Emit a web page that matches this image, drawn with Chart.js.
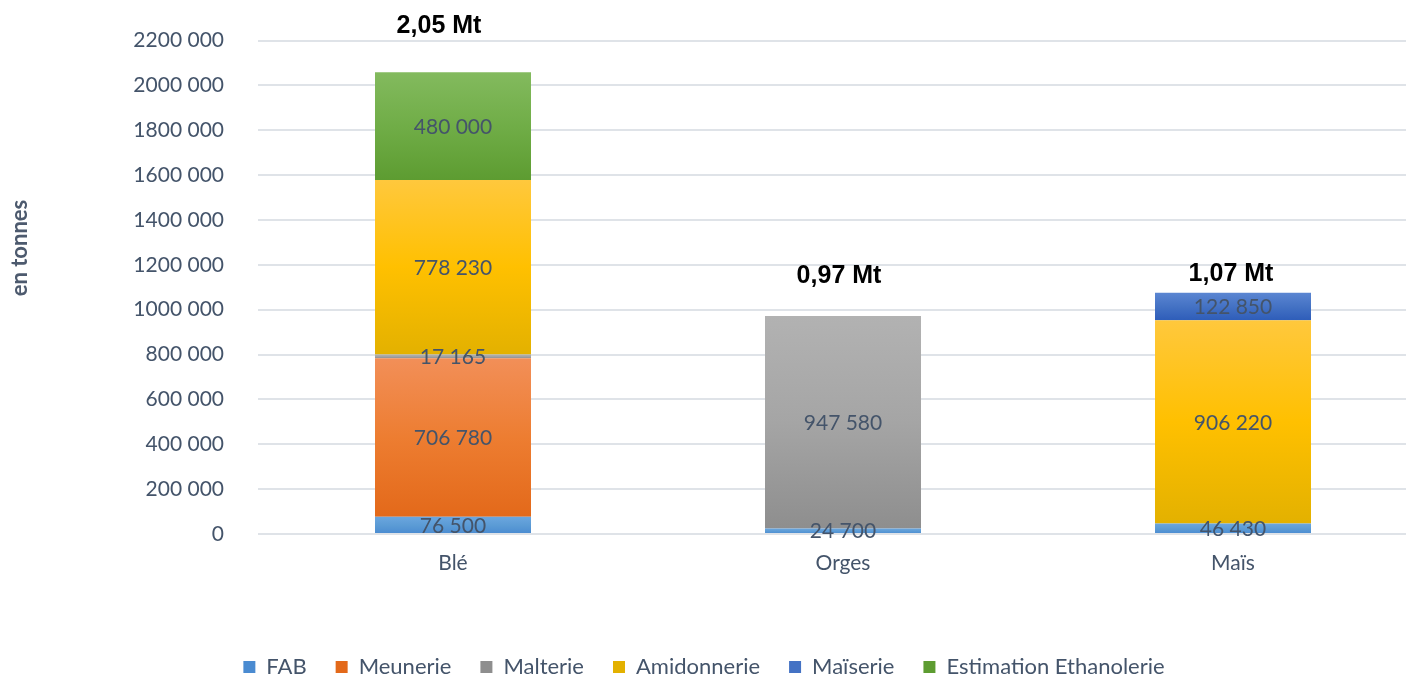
<!DOCTYPE html>
<html>
<head>
<meta charset="utf-8">
<script src="https://cdn.jsdelivr.net/npm/chart.js@4.4.0/dist/chart.umd.min.js"></script>
<style>
  html, body { margin: 0; padding: 0; background: #fff; overflow: hidden; }
  #wrap { position: relative; width: 1406px; height: 678px; overflow: hidden; }
  #chart { position: absolute; left: -20px; top: -6px; }
</style>
</head>
<body>
<div id="wrap"><canvas id="chart" width="1460" height="694"></canvas></div>
<script>
// data
const categories  = ['Blé', 'Orges', 'Maïs'];
const seriesNames = ['FAB', 'Meunerie', 'Malterie', 'Amidonnerie', 'Maïserie', 'Estimation Ethanolerie'];
const fab         = [76500, 24700, 46430];
const meunerie    = [706780, null, null];
const malterie    = [17165, 947580, null];
const amidonnerie = [778230, null, 906220];
const maiserie    = [null, null, 122850];
const ethanolerie = [480000, null, null];
const totalLabels = ['2,05 Mt', '0,97 Mt', '1,07 Mt'];
const yMax  = 2200000;
const yStep = 200000;

// styles
const TEXT = '#44546a';
const palette = [
    { top: '#6ba6df', mid: '#5b9bd5', bottom: '#4a8bd1' },
    { top: '#f28f58', mid: '#ed7d31', bottom: '#e3691a' },
    { top: '#b2b2b2', mid: '#a5a5a5', bottom: '#8e8e8e' },
    { top: '#ffc83d', mid: '#ffc000', bottom: '#e3b100' },
    { top: '#5b86d2', mid: '#4472c4', bottom: '#2e5db9' },
    { top: '#83ba5e', mid: '#70ad47', bottom: '#5d9c31' }
];
// where the bold totals sit relative to the top of each stack (px)
const totalOffsets = [{ dx: -14, dy: -46 }, { dx: -4, dy: -40 }, { dx: -2, dy: -19 }];

function fmt(v) {
    if (v < 1000) return String(v);
    return Math.floor(v / 1000) + ' ' + String(v % 1000).padStart(3, '0');
}

function segGradient(ctx) {
    const c = palette[ctx.datasetIndex];
    if (ctx.type !== 'data') return c.mid;
    const chart = ctx.chart;
    const y = chart.scales.y;
    if (!y || !chart.chartArea) return c.mid;
    let base = 0;
    for (let d = 0; d < ctx.datasetIndex; d++) base += chart.data.datasets[d].data[ctx.dataIndex] || 0;
    const v = ctx.raw || 0;
    const top = y.getPixelForValue(base + v);
    const bottom = y.getPixelForValue(base);
    if (!(bottom > top)) return c.mid;
    const g = chart.ctx.createLinearGradient(0, top, 0, bottom);
    g.addColorStop(0, c.top);
    g.addColorStop(0.5, c.mid);
    g.addColorStop(1, c.bottom);
    return g;
}

const labelsPlugin = {
    id: 'segLabels',
    afterDatasetsDraw(chart) {
        const ctx = chart.ctx;
        ctx.save();
        ctx.textAlign = 'center';
        ctx.textBaseline = 'middle';
        ctx.font = '21px Lato';
        ctx.fillStyle = TEXT;
        chart.data.datasets.forEach((ds, di) => {
            const meta = chart.getDatasetMeta(di);
            meta.data.forEach((bar, i) => {
                const v = ds.data[i];
                if (!v) return;
                const p = bar.getProps(['x', 'y', 'base'], true);
                ctx.fillText(fmt(v), p.x, (p.y + p.base) / 2 + 1);
            });
        });

        ctx.font = 'bold 25px "Liberation Sans"';
        ctx.fillStyle = '#000';
        categories.forEach((c, i) => {
            let total = 0;
            chart.data.datasets.forEach(ds => { total += ds.data[i] || 0; });
            const x = chart.scales.x.getPixelForValue(i) + totalOffsets[i].dx;
            const y = chart.scales.y.getPixelForValue(total) + totalOffsets[i].dy;
            ctx.fillText(totalLabels[i], x, y);
        });

        // y axis title
        ctx.translate(40, 254);
        ctx.rotate(-Math.PI / 2);
        ctx.font = 'bold 22px Lato';
        ctx.fillStyle = '#4d5a6e';
        ctx.fillText('en tonnes', 0, 0);
        ctx.restore();
    }
};

const seriesData = [fab, meunerie, malterie, amidonnerie, maiserie, ethanolerie];

new Chart(document.getElementById('chart'), {
    type: 'bar',
    data: {
        labels: categories,
        datasets: seriesNames.map((name, i) => ({
            label: name,
            data: seriesData[i],
            backgroundColor: segGradient,
            borderWidth: 0,
            categoryPercentage: 1,
            barPercentage: 0.4
        }))
    },
    options: {
        responsive: false,
        animation: false,
        layout: { padding: { top: 34, right: 12, left: 0, bottom: 0 } },
        scales: {
            x: {
                stacked: true,
                grid: { display: false },
                border: { display: false },
                ticks: { color: TEXT, font: { family: 'Lato', size: 21 }, padding: 9 },
                afterFit(scale) { scale.height = 93; }
            },
            y: {
                stacked: true,
                min: 0,
                max: yMax,
                grid: { color: '#dfe3e8', lineWidth: 2, drawTicks: false },
                border: { display: false },
                ticks: {
                    stepSize: yStep,
                    color: TEXT,
                    font: { family: 'Lato', size: 21 },
                    padding: 34,
                    callback: v => fmt(v)
                },
                afterFit(scale) { scale.width = 278; }
            }
        },
        plugins: {
            tooltip: { enabled: false },
            legend: {
                position: 'bottom',
                labels: {
                    color: TEXT,
                    font: { family: 'Lato', size: 22 },
                    boxWidth: 12,
                    boxHeight: 12,
                    padding: 29
                }
            }
        }
    },
    plugins: [labelsPlugin]
});
</script>
</body>
</html>
